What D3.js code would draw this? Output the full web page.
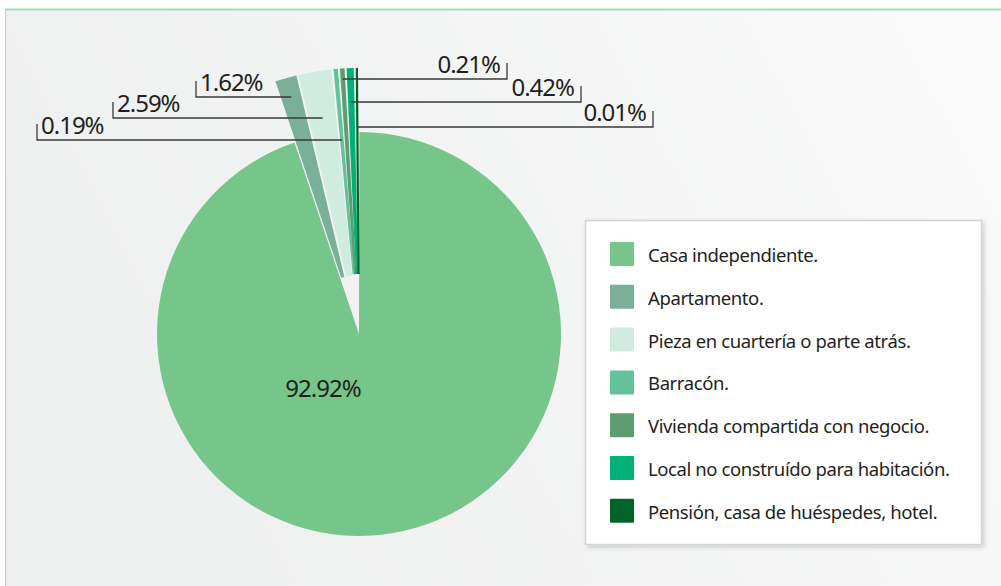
<!DOCTYPE html>
<html>
<head>
<meta charset="utf-8">
<script src="https://cdn.jsdelivr.net/npm/d3@7"></script>
<style>
  html, body { margin: 0; padding: 0; background: #ffffff; }
  svg { display: block; }
  text { font-family: "Noto Sans", "Open Sans", sans-serif; fill: #231f20; }
</style>
</head>
<body>
<svg id="chart" width="1001" height="586"></svg>
<script>
// ---- data ----
const categories = [
  "Casa independiente.",
  "Apartamento.",
  "Pieza en cuartería o parte atrás.",
  "Barracón.",
  "Vivienda compartida con negocio.",
  "Local no construído para habitación.",
  "Pensión, casa de huéspedes, hotel."
];
const values = [92.92, 1.62, 2.59, 0.19, 0.21, 0.42, 0.01];
const valueLabels = ["92.92%", "1.62%", "2.59%", "0.19%", "0.21%", "0.42%", "0.01%"];
const colors = ["#76c58a", "#7aaf9a", "#d0ebe0", "#62c39b", "#5d9d6f", "#00b077", "#006329"];

// ---- layout (not data) ----
const W = 1001, H = 586;
const cx = 359, cy = 334, R = 202;
const smallInner = 60, smallOuter = 265;
// leader levels for small slices
const leaderY   = [null, 97, 118, 140, 79, 102, 127];
const leaderEnd = [null, 196, 113, 37, 507, 581, 653];
const leaderSide= [null, "left", "left", "left", "right", "right", "right"];

const svg = d3.select("#chart");
const defs = svg.append("defs");
const bg = defs.append("linearGradient").attr("id", "bg")
  .attr("x1", "0%").attr("y1", "30%").attr("x2", "100%").attr("y2", "0%");
bg.append("stop").attr("offset", "0%").attr("stop-color", "#eeefef");
bg.append("stop").attr("offset", "100%").attr("stop-color", "#fafafa");
const sh = defs.append("filter").attr("id", "shadow")
  .attr("x", "-5%").attr("y", "-5%").attr("width", "112%").attr("height", "112%");
sh.append("feDropShadow").attr("dx", 2).attr("dy", 2).attr("stdDeviation", 2)
  .attr("flood-color", "#000").attr("flood-opacity", 0.18);

// frame
svg.append("rect").attr("x", 5).attr("y", 9).attr("width", W - 5).attr("height", H - 9)
  .attr("fill", "url(#bg)");
svg.append("line").attr("x1", 5).attr("x2", W).attr("y1", 9.5).attr("y2", 9.5)
  .attr("stroke", "#a9dbb6").attr("stroke-width", 2);
svg.append("line").attr("x1", 5.5).attr("x2", 5.5).attr("y1", 9).attr("y2", H)
  .attr("stroke", "#a9dbb6").attr("stroke-width", 1);

// ---- pie ----
const pie = d3.pie().sort(null).value(d => d.v);
const data = values.map((v, i) => ({ v, i }));
const arcsAll = pie(data);
const casa = arcsAll[0];
// small slices laid out across the remaining angular span, with separating pads
const smallPie = d3.pie().sort(null).value(d => d.v)
  .startAngle(casa.endAngle - 2 * Math.PI).endAngle(0).padAngle(0.0155);
const smallArcs = smallPie(data.slice(1));

const g = svg.append("g").attr("transform", `translate(${cx},${cy})`);

g.append("path")
  .attr("d", d3.arc().innerRadius(0).outerRadius(R)({ ...casa, padAngle: 0.004 }))
  .attr("fill", colors[0]);

const smallArc = d3.arc().innerRadius(smallInner).outerRadius(smallOuter);
g.selectAll("path.small").data(smallArcs).join("path")
  .attr("class", "small")
  .attr("d", smallArc)
  .attr("fill", d => colors[d.data.i])
  .attr("stroke", d => colors[d.data.i])
  .attr("stroke-width", 2.2)
  .attr("stroke-linejoin", "miter");

// center label
svg.append("text").attr("x", 323).attr("y", 397).attr("text-anchor", "middle")
  .attr("font-size", 24).attr("letter-spacing", -1).text(valueLabels[0]);

// leaders + labels for small slices
smallArcs.forEach(a => {
  const i = a.data.i;
  const mid = (a.startAngle + a.endAngle) / 2;
  const y = leaderY[i];
  const xStart = cx + (cy - y) * Math.tan(mid);
  const xEnd = leaderEnd[i];
  const path = d3.path();
  path.moveTo(xStart, y);
  path.lineTo(xEnd, y);
  path.lineTo(xEnd, y - 16);
  svg.append("path").attr("d", path.toString()).attr("fill", "none")
    .attr("stroke", "#3a3a3a").attr("stroke-width", 1.3);
  const t = svg.append("text").attr("y", y - 6).attr("font-size", 24)
    .attr("letter-spacing", -1).text(valueLabels[i]);
  if (leaderSide[i] === "left") t.attr("x", xEnd + 4).attr("text-anchor", "start");
  else t.attr("x", xEnd - 7).attr("text-anchor", "end");
});

// ---- legend ----
const lg = svg.append("g");
lg.append("rect").attr("x", 585.5).attr("y", 220.5).attr("width", 396).attr("height", 324)
  .attr("fill", "#ffffff").attr("stroke", "#d4d4d4").attr("stroke-width", 1.5)
  .attr("filter", "url(#shadow)");
const rows = lg.selectAll("g.row").data(categories).join("g")
  .attr("class", "row")
  .attr("transform", (d, i) => `translate(610, ${242 + i * 42.8})`);
rows.append("rect").attr("width", 24).attr("height", 24).attr("rx", 1)
  .attr("fill", (d, i) => colors[i]);
rows.append("text").attr("x", 38).attr("y", 20).attr("font-size", 18.5)
  .attr("letter-spacing", -0.4).text(d => d);
</script>
</body>
</html>
